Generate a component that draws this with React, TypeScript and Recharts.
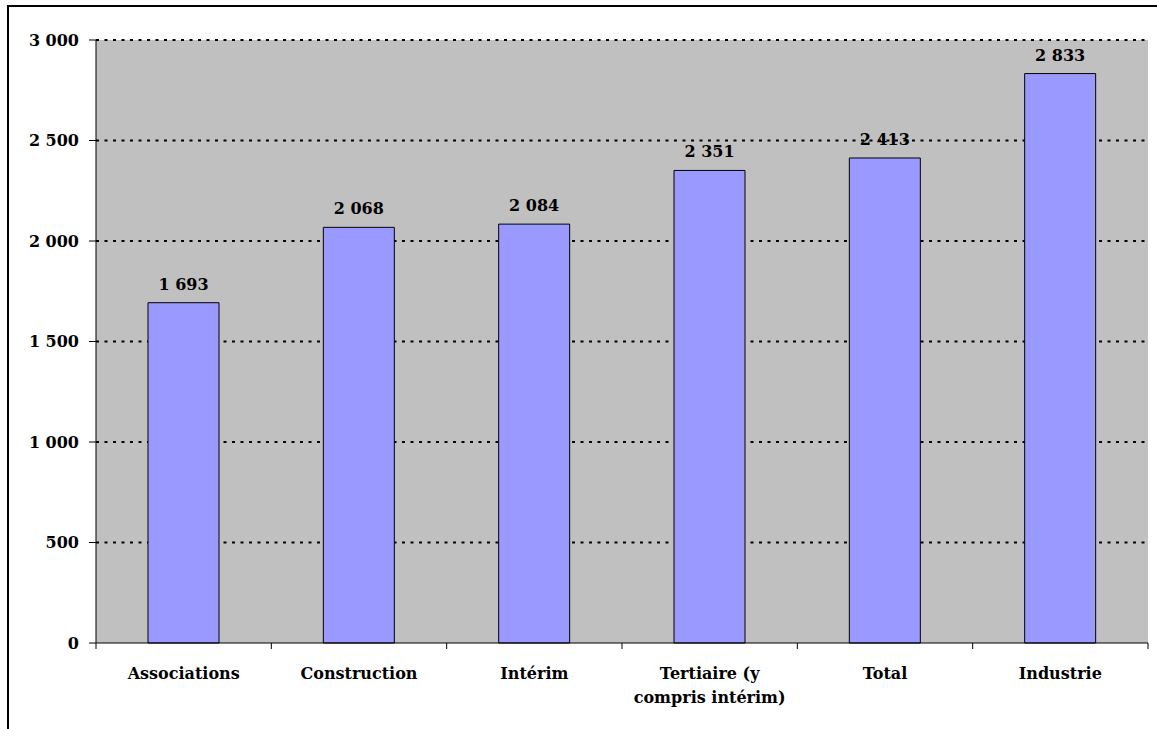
import React from 'react';
import { BarChart, Bar, XAxis, YAxis, CartesianGrid, LabelList } from 'recharts';

const categories = [
  'Associations',
  'Construction',
  'Intérim',
  'Tertiaire (y\ncompris intérim)',
  'Total',
  'Industrie',
];
const values = [1693, 2068, 2084, 2351, 2413, 2833];
const yTicks = [0, 500, 1000, 1500, 2000, 2500, 3000];

const data = categories.map((c, i) => ({ name: c, value: values[i] }));

const FONT = '"DejaVu Serif", serif';
const fmt = (v: number) => String(v).replace(/\B(?=(\d{3})+(?!\d))/g, ' ');

const XTick = (props: any) => {
  const { x, y, payload, index } = props;
  const half = payload.offset || 0;
  const lines = String(payload.value).split('\n');
  const axisY = y - 8;
  return (
    <g>
      <line x1={x - half} x2={x - half} y1={axisY} y2={axisY + 6} stroke="#000" strokeWidth={1} />
      {index === categories.length - 1 && (
        <line x1={x + half} x2={x + half} y1={axisY} y2={axisY + 6} stroke="#000" strokeWidth={1} />
      )}
      {lines.map((l, i) => (
        <text
          key={i}
          x={x}
          y={axisY + 36 + i * 24}
          textAnchor="middle"
          fontFamily={FONT}
          fontWeight="bold"
          fontSize={16}
          fill="#000"
        >
          {l}
        </text>
      ))}
    </g>
  );
};

export default function App() {
  return (
    <div style={{ position: 'absolute', left: 0, top: 0, width: 1157, height: 729, background: '#fff', overflow: 'hidden' }}>
      <div
        style={{
          position: 'absolute',
          left: 7,
          top: 5,
          width: 1200,
          height: 800,
          borderTop: '2px solid #000',
          borderLeft: '2px solid #000',
        }}
      />
      <div style={{ position: 'absolute', left: 0, top: 0 }}>
        <BarChart
          width={1157}
          height={729}
          data={data}
          margin={{ top: 40, right: 9, bottom: 26, left: 0 }}
          barSize={71}
        >
          <CartesianGrid
            vertical={false}
            horizontalValues={yTicks.slice(1)}
            stroke="#000"
            strokeWidth={2}
            strokeDasharray="3 5.5"
            fill="#C0C0C0"
            fillOpacity={1}
          />
          <XAxis
            dataKey="name"
            stroke="#000"
            tickLine={false}
            interval={0}
            height={60}
            tick={<XTick />}
          />
          <YAxis
            domain={[0, 3000]}
            ticks={yTicks}
            width={96}
            stroke="#000"
            tickSize={7}
            tickMargin={10}
            tickFormatter={fmt}
            tick={{ fontFamily: FONT, fontWeight: 'bold', fontSize: 16, fill: '#000' }}
          />
          <YAxis
            yAxisId="right"
            orientation="right"
            width={0}
            stroke="#808080"
            tick={false}
            tickLine={false}
          />
          <Bar dataKey="value" fill="#9999FF" stroke="#000" strokeWidth={1} isAnimationActive={false}>
            <LabelList
              dataKey="value"
              position="top"
              offset={13}
              formatter={(v: any) => fmt(Number(v))}
              style={{ fontFamily: FONT, fontWeight: 'bold', fontSize: 16, fill: '#000' }}
            />
          </Bar>
        </BarChart>
      </div>
    </div>
  );
}
